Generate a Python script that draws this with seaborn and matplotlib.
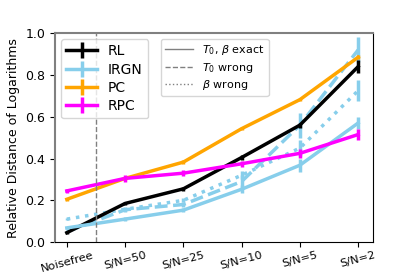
import numpy as np
import pandas as pd
import matplotlib
matplotlib.use("Agg")
import matplotlib.pyplot as plt
import seaborn as sns
from matplotlib.lines import Line2D

# data
levels = ["Noisefree", "S/N=50", "S/N=25", "S/N=10", "S/N=5", "S/N=2"]
RL = [0.045, 0.185, 0.255, 0.405, 0.56, 0.84]
IRGN = [0.068, 0.11, 0.153, 0.253, 0.368, 0.57]
PC = [0.205, 0.305, 0.383, 0.543, 0.682, 0.885]
RPC = [0.245, 0.305, 0.33, 0.375, 0.425, 0.515]
IRGN_T0 = [0.05, 0.155, 0.18, 0.29, 0.56, 0.92]
IRGN_beta = [0.11, 0.157, 0.2, 0.32, 0.45, 0.725]
err_RL = [0.006, 0.008, 0.008, 0.01, 0.012, 0.03]
err_IRGN = [0.005, 0.008, 0.01, 0.02, 0.03, 0.03]
err_PC = [0.008, 0.008, 0.008, 0.008, 0.008, 0.01]
err_RPC = [0.01, 0.015, 0.015, 0.015, 0.02, 0.025]
err_T0 = [0.005, 0.01, 0.01, 0.03, 0.06, 0.06]
err_beta = [0.005, 0.01, 0.01, 0.02, 0.04, 0.05]

colors = {"RL": "black", "IRGN": "skyblue", "PC": "orange", "RPC": "magenta"}

x = np.arange(len(levels))
df = pd.DataFrame({"x": np.tile(x, 4),
                   "value": RL + IRGN + PC + RPC,
                   "method": np.repeat(["RL", "IRGN", "PC", "RPC"], len(levels))})

fig, ax = plt.subplots(figsize=(4.15, 2.77), dpi=100)

# IRGN variants
sns.lineplot(x=x, y=IRGN_T0, ax=ax, color=colors["IRGN"], lw=2.5, linestyle="--")
ax.errorbar(x, IRGN_T0, yerr=err_T0, fmt="none", ecolor=colors["IRGN"], elinewidth=2.5)
sns.lineplot(x=x, y=IRGN_beta, ax=ax, color=colors["IRGN"], lw=2.5, linestyle=":")
ax.errorbar(x, IRGN_beta, yerr=err_beta, fmt="none", ecolor=colors["IRGN"], elinewidth=2.5)

sns.lineplot(data=df, x="x", y="value", hue="method", palette=colors,
             lw=2.5, ax=ax, legend=False)
for name, err in [("RL", err_RL), ("IRGN", err_IRGN), ("PC", err_PC), ("RPC", err_RPC)]:
    vals = df[df.method == name]["value"].values
    ax.errorbar(x, vals, yerr=err, fmt="none", ecolor=colors[name], elinewidth=2.5)

ax.axvline(0.5, color="gray", ls="--", lw=1)

ax.set_xlim(-0.2, 5.25)
ax.set_ylim(0, 1)
ax.set_xticks(x)
ax.set_xticklabels(levels, rotation=15, fontsize=8.2)
ax.tick_params(axis="x", pad=2)
ax.set_xlabel("")
ax.set_ylabel("Relative Distance of Logarithms", fontsize=9)
ax.tick_params(axis="y", labelsize=9)
ax.spines["left"].set_color("gray")
ax.spines["top"].set_color("gray")
ax.spines["left"].set_linewidth(1.5)
ax.spines["top"].set_linewidth(1.5)

h1 = [Line2D([], [], color=colors[m], lw=2.5, marker="|", markersize=12, mew=2.5)
      for m in ["RL", "IRGN", "PC", "RPC"]]
leg1 = ax.legend(h1, ["RL", "IRGN", "PC", "RPC"], loc="upper left", fontsize=10,
                 handlelength=2.2, labelspacing=0.3, borderaxespad=0.4)
ax.add_artist(leg1)
h2 = [Line2D([], [], color="gray", lw=1, ls=s) for s in ["-", "--", ":"]]
ax.legend(h2, [r"$T_0$, $\beta$ exact", r"$T_0$ wrong", r"$\beta$ wrong"],
          loc="upper left", bbox_to_anchor=(0.315, 1.0), fontsize=8,
          labelspacing=0.3, handlelength=2.5)

fig.subplots_adjust(left=0.133, right=0.898, top=0.88, bottom=0.126)
fig.savefig("out.png", dpi=100)
